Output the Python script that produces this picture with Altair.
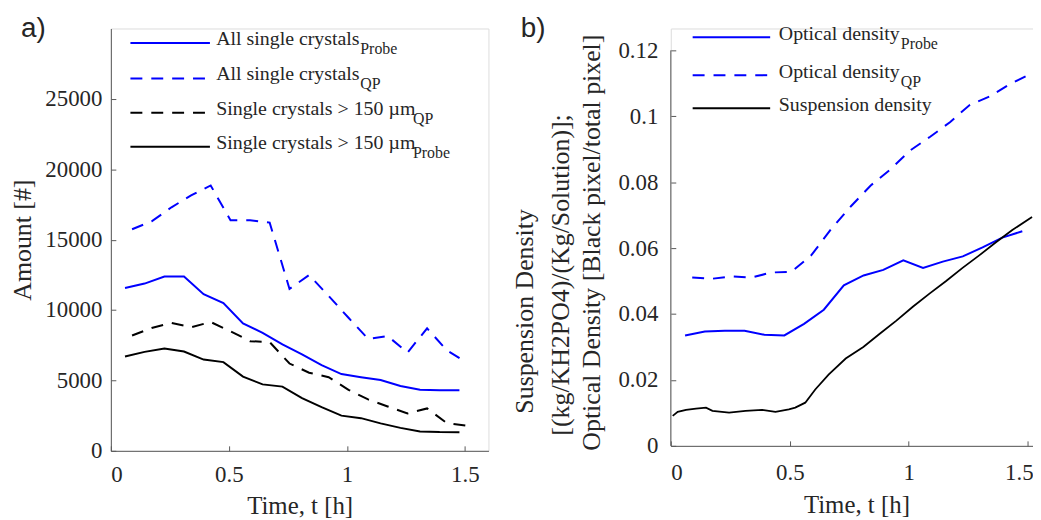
import altair as alt
import pandas as pd

# ---------------- data ----------------
# Panel a) : crystal counts
t_probe = [0.06, 0.143, 0.227, 0.31, 0.393, 0.477, 0.56, 0.643, 0.727, 0.81,
           0.893, 0.977, 1.06, 1.143, 1.227, 1.31, 1.393, 1.477]
t_qp = [0.09, 0.173, 0.257, 0.34, 0.423, 0.507, 0.59, 0.673, 0.757, 0.84,
        0.923, 1.007, 1.09, 1.173, 1.257, 1.34, 1.423, 1.507]
all_probe = [11560, 11880, 12380, 12380, 11130, 10500, 9050, 8380, 7560, 6850,
             6080, 5450, 5230, 5030, 4600, 4340, 4310, 4300]
all_qp = [15740, 16300, 17300, 18150, 18850, 16380, 16380, 16210, 11500, 12490,
          11000, 9450, 7950, 8150, 6980, 8700, 7150, 6280]
big_qp = [8190, 8730, 9080, 8780, 9150, 8490, 7790, 7720, 6200, 5550,
          5230, 4330, 3650, 3150, 2650, 3010, 1975, 1790]
big_probe = [6700, 7030, 7270, 7050, 6480, 6300, 5270, 4720, 4560, 3750,
             3100, 2500, 2320, 1950, 1630, 1380, 1330, 1320]

# Panel b) : densities
od_probe = [0.0335, 0.0347, 0.0349, 0.0349, 0.0337, 0.0335, 0.0370, 0.0413, 0.0487, 0.0517,
            0.0534, 0.0563, 0.0540, 0.0559, 0.0575, 0.0602, 0.0632, 0.0651]
od_qp = [0.0511, 0.0507, 0.0514, 0.0511, 0.0526, 0.0528, 0.0578, 0.0657, 0.0727, 0.0790,
         0.0839, 0.0897, 0.0938, 0.0982, 0.1035, 0.1060, 0.1097, 0.1127]
t_susp = [0.008, 0.029, 0.064, 0.106, 0.148, 0.175, 0.245, 0.314, 0.384, 0.44,
          0.496, 0.523, 0.565, 0.607, 0.663, 0.735, 0.809, 0.878, 0.948, 1.017,
          1.087, 1.157, 1.226, 1.296, 1.365, 1.435, 1.518]
susp = [0.0091, 0.0103, 0.0109, 0.0113, 0.0116, 0.0106, 0.0101, 0.0106, 0.0109, 0.0103,
        0.0111, 0.0116, 0.0131, 0.0171, 0.0216, 0.0265, 0.0300, 0.0340, 0.0380, 0.0422,
        0.0462, 0.0500, 0.0540, 0.0578, 0.0617, 0.0655, 0.0694]

x_ticks = [0, 0.5, 1, 1.5]
ya_ticks = [0, 5000, 10000, 15000, 20000, 25000]
yb_ticks = [0, 0.02, 0.04, 0.06, 0.08, 0.1, 0.12]

# ---------------- style ----------------
FONT = "Liberation Serif"
SANS = "Liberation Sans"
BLUE = "#0000ff"
BLACK = "#000000"
AXC = "#595959"
TXT = "#262626"
DASH = [12, 9]


def one():
    return alt.Data(values=[{}])


def text_layer(s, x, y, size, font=FONT, angle=None, align="left", baseline="alphabetic"):
    kw = dict(text=s, font=font, fontSize=size, color=TXT, align=align, baseline=baseline)
    if angle is not None:
        kw["angle"] = angle
    return alt.Chart(one()).mark_text(**kw).encode(x=alt.value(x), y=alt.value(y))


def seg_layer(x1, x2, y, color, dash):
    kw = dict(color=color, strokeWidth=2, strokeCap="butt")
    if dash:
        kw["strokeDash"] = dash
    return alt.Chart(one()).mark_rule(**kw).encode(
        x=alt.value(x1), x2=alt.value(x2), y=alt.value(y))


def main_axis(values, fmt, orient, label_pad, title=None, title_pad=0, domain=True,
              label_offset=None):
    kw = dict(values=values, format=fmt, orient=orient, ticks=False, grid=False,
              domain=domain, domainColor=AXC, domainWidth=1, labelFont=FONT,
              labelFontSize=23, labelColor=TXT, labelPadding=label_pad, labelOverlap=False)
    if label_offset is not None:
        kw["labelOffset"] = label_offset
    if title:
        kw.update(title=title, titleFont=FONT, titleFontSize=25, titleFontWeight="normal",
                  titleColor=TXT, titlePadding=title_pad)
    else:
        kw["title"] = None
    return alt.Axis(**kw)


def tick_axis(values, orient):
    return alt.Axis(values=values, orient=orient, offset=-5, ticks=True, tickSize=5,
                    tickColor=AXC, tickWidth=1, labels=False, domain=False, grid=False,
                    title=None)


def series(times, values, xs, ys, color, dash, xaxis=None, yaxis=None, width=2.0):
    kw = dict(color=color, strokeWidth=width)
    if dash:
        kw["strokeDash"] = dash
    df = pd.DataFrame({"t": times, "v": values})
    return alt.Chart(df).mark_line(**kw).encode(
        x=alt.X("t:Q", scale=xs, axis=xaxis),
        y=alt.Y("v:Q", scale=ys, axis=yaxis),
    )


def inner_ticks(times, values, xs, ys, yvals):
    df = pd.DataFrame({"t": times, "v": values})
    return alt.Chart(df).mark_point(opacity=0).encode(
        x=alt.X("t:Q", scale=xs, axis=tick_axis(x_ticks, "bottom")),
        y=alt.Y("v:Q", scale=ys, axis=tick_axis(yvals, "left")),
    )


# ---------------- panel a ----------------
xs_a = alt.Scale(domain=[0, 1.6], nice=False, zero=False)
ys_a = alt.Scale(domain=[0, 30000], nice=False)

leg_a = []
rows_a = [14.7, 50.3, 84.7, 119]
a_colors = [BLUE, BLUE, BLACK, BLACK]
a_dashes = [None, DASH, DASH, None]
main_a = ["All single crystals", "All single crystals",
          "Single crystals > 150 µm", "Single crystals > 150 µm"]
sub_a = ["Probe", "QP", "QP", "Probe"]
sub_x_a = [251, 251, 304, 304]
for i in range(4):
    yy = rows_a[i]
    leg_a.append(seg_layer(19.7, 99.7, yy, a_colors[i], a_dashes[i]))
    leg_a.append(text_layer(main_a[i], 106, yy + 2, 20))
    leg_a.append(text_layer(sub_a[i], sub_x_a[i], yy + 11, 16))

panel_a = alt.layer(
    series(t_probe, all_probe, xs_a, ys_a, BLUE, None,
           main_axis(x_ticks, ".1~f", "bottom", 13, "Time, t [h]", 7),
           main_axis(ya_ticks, "d", "left", 9)),
    series(t_qp, all_qp, xs_a, ys_a, BLUE, DASH),
    series(t_qp, big_qp, xs_a, ys_a, BLACK, DASH),
    series(t_probe, big_probe, xs_a, ys_a, BLACK, None),
    inner_ticks(t_probe, all_probe, xs_a, ys_a, ya_ticks),
    *leg_a,
    text_layer("a)", -90.3, 8.5, 28, font=SANS),
    text_layer("Amount [#]", -88, 213, 26, angle=270, align="center", baseline="middle"),
).resolve_axis(x="independent", y="independent").properties(width=380, height=425)

# ---------------- panel b ----------------
HB = 420
WB = 373.6
xs_b = alt.Scale(domain=[0, 1.56], nice=False, zero=False)
ys_b = alt.Scale(domain=[0, 0.12 * HB / 398.0], nice=False)

leg_b = []
rows_b = [8.7, 47, 80.3]
b_colors = [BLUE, BLUE, BLACK]
b_dashes = [None, DASH, None]
main_b = ["Optical density", "Optical density", "Suspension density"]
sub_b = ["Probe", "QP", ""]
for i in range(3):
    yy = rows_b[i]
    leg_b.append(seg_layer(22, 100, yy, b_colors[i], b_dashes[i]))
    leg_b.append(text_layer(main_b[i], 108.7, yy + 2.6, 20))
    if sub_b[i]:
        leg_b.append(text_layer(sub_b[i], 231.5, yy + 11.6, 16))

y_line_b = alt.Chart(one()).mark_rule(color=AXC, strokeWidth=1).encode(
    x=alt.value(0),
    y=alt.YDatum(yb_ticks[0], scale=ys_b, axis=None),
    y2=alt.Y2Datum(yb_ticks[-1]),
)

last_label_shift = {"condition": {"test": "datum.value == 1.5", "value": -9}, "value": 0}

panel_b = alt.layer(
    series(t_probe, od_probe, xs_b, ys_b, BLUE, None,
           main_axis(x_ticks, ".1~f", "bottom", 16, "Time, t [h]", 8,
                     label_offset=last_label_shift),
           main_axis(yb_ticks, ".2~f", "left", 13, domain=False)),
    series(t_qp, od_qp, xs_b, ys_b, BLUE, DASH),
    series(t_susp, susp, xs_b, ys_b, BLACK, None, width=1.8),
    inner_ticks(t_probe, od_probe, xs_b, ys_b, yb_ticks),
    y_line_b,
    *leg_b,
    text_layer("b)", -151, 8.5, 28, font=SANS),
    text_layer("Suspension Density", -147, 284.7, 26, angle=270, align="center", baseline="middle"),
    text_layer("[(kg/KH2PO4)/(Kg/Solution)];", -110.5, 248, 26, angle=270, align="center", baseline="middle"),
    text_layer("Optical Density [Black pixel/total pixel]", -79, 215.5, 26, angle=270, align="center", baseline="middle"),
).resolve_axis(x="independent", y="independent").properties(width=WB, height=HB)

chart = alt.hconcat(panel_a, panel_b, spacing=21.5).properties(
    padding={"left": 1.5, "top": 5, "right": -10, "bottom": 0},
    background="white",
).configure_view(stroke=None).configure_axis(
    labelFont=FONT, labelFontSize=23, labelColor=TXT,
    titleFont=FONT, titleFontSize=25, titleFontWeight="normal", titleColor=TXT,
).configure(font=FONT)

chart.save("out.html", embed_options={"renderer": "svg", "actions": False})
